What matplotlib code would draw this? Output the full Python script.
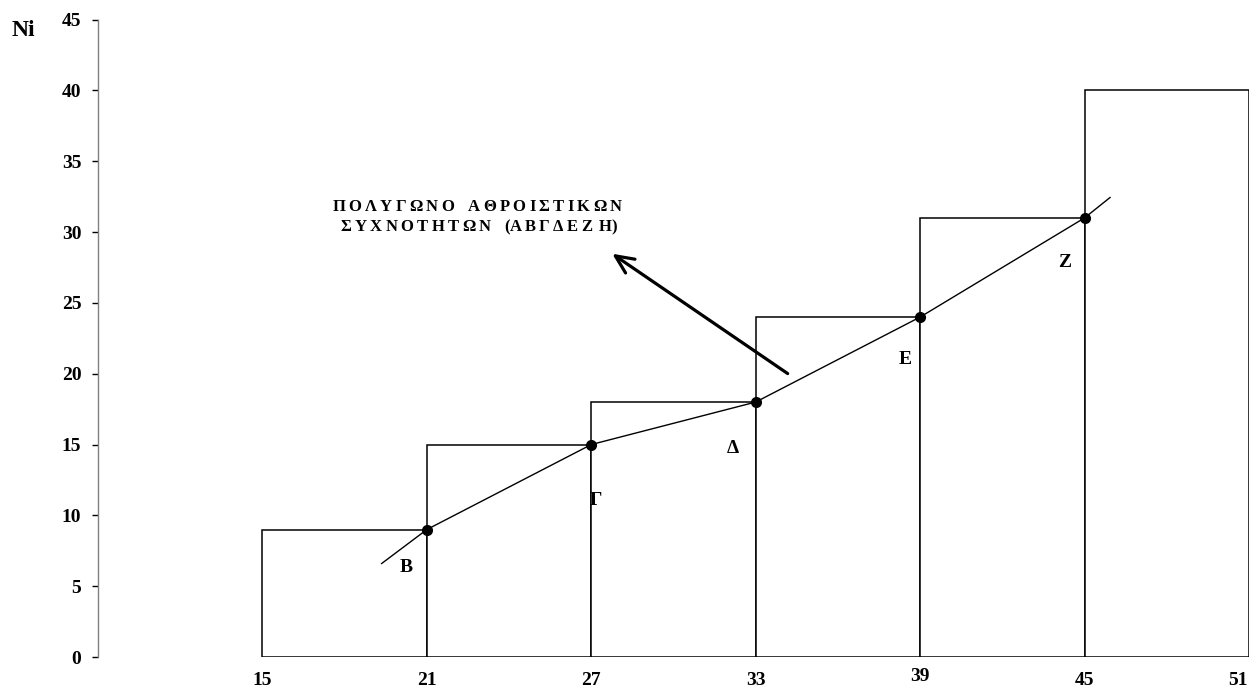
import matplotlib.pyplot as plt
from matplotlib.font_manager import FontProperties
from matplotlib.transforms import ScaledTranslation

# class limits and cumulative frequencies Ni
edges = [15, 21, 27, 33, 39, 45, 51]
ni = [9, 15, 18, 24, 31, 40]

# cumulative polygon: interior points plus the short end extensions
poly_x = [19.35, 21, 27, 33, 39, 45, 45.93]
poly_y = [6.6, 9, 15, 18, 24, 31, 32.44]
pt_x = [21, 27, 33, 39, 45]
pt_y = [9, 15, 18, 24, 31]
pt_names = ['Β', 'Γ', 'Δ', 'Ε', 'Ζ']
name_pos = [(20.24, 6.3), (27.17, 11.05), (32.16, 14.7), (38.44, 21.0), (44.27, 27.87)]

yticks = [0, 5, 10, 15, 20, 25, 30, 35, 40, 45]
title_lines = ['ΠΟΛΥΓΩΝΟ ΑΘΡΟΙΣΤΙΚΩΝ', 'ΣΥΧΝΟΤΗΤΩΝ (ΑΒΓΔΕΖ Η)']

plt.rcParams['font.family'] = ['Liberation Serif', 'DejaVu Serif']
plt.rcParams['font.weight'] = 'bold'

fig = plt.figure(figsize=(12.55, 6.9), dpi=100)
ax = fig.add_axes([0.0781, 0.0478, 0.9171, 0.9238])
renderer = fig.canvas.get_renderer()
title_font = FontProperties(family='Liberation Serif', weight='bold', size=12)


def spaced_text(x, y, s, gap, words):
    # letter-spaced text: one glyph at a time, offset in pixels
    words = iter(words)
    off = 0.0
    prev = None
    for ch in s:
        if ch == ' ':
            off += next(words)
            continue
        if prev is not None and prev != '(' and ch != ')':
            off += gap
        ax.annotate(ch, (x, y), xytext=(off, 0), textcoords='offset pixels',
                    ha='left', va='center', fontproperties=title_font)
        w, _, _ = renderer.get_text_width_height_descent(ch, title_font, ismath=False)
        off += w
        prev = ch


widths = [edges[i + 1] - edges[i] for i in range(len(ni))]
ax.bar(edges[:-1], ni, width=widths, align='edge', color='white',
       edgecolor='black', linewidth=1.1, zorder=2)

ax.plot(poly_x, poly_y, color='black', linewidth=1.0, zorder=3)
ax.plot(pt_x, pt_y, 'o', color='black', markersize=7, zorder=4)

for name, (x, y) in zip(pt_names, name_pos):
    ax.text(x, y, name, fontsize=14, fontweight='bold', ha='center', va='center')

ax.annotate('', xy=(27.68, 28.58), xytext=(34.25, 19.9),
            arrowprops=dict(arrowstyle='->,head_length=1.3,head_width=0.6',
                            color='black', linewidth=2.3))

spaced_text(17.55, 31.76, title_lines[0], gap=3.3, words=[10])
spaced_text(17.85, 30.35, title_lines[1], gap=3.3, words=[10, 3])

ax.set_xlim(9, 51)
ax.set_ylim(0, 45)
ax.set_yticks(yticks)
ax.set_xticks(edges)
ax.tick_params(axis='y', direction='out', length=4, width=1, pad=8, labelsize=14)
ax.tick_params(axis='x', length=0, pad=11, labelsize=14)

# last label pulled inside the figure, "39" sits a little higher
xlabels = ax.get_xticklabels()
xlabels[4].set_transform(xlabels[4].get_transform() + ScaledTranslation(0, 4 / 100, fig.dpi_scale_trans))
xlabels[6].set_transform(xlabels[6].get_transform() + ScaledTranslation(-11 / 100, 0, fig.dpi_scale_trans))

for side in ['top', 'right', 'bottom']:
    ax.spines[side].set_visible(False)
ax.spines['left'].set_color('#808080')
ax.spines['left'].set_linewidth(1)

fig.text(23.5 / 1255, 1 - 30 / 690, 'Ni', fontsize=17, fontweight='bold',
         ha='center', va='center')

plt.savefig('out.png', dpi=100)
